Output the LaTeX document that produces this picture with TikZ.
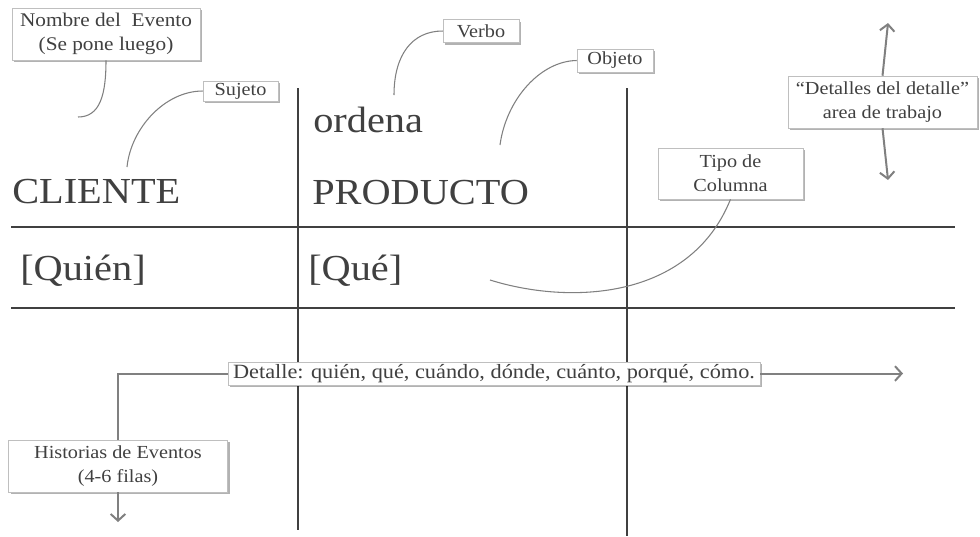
\documentclass[tikz,border=0pt]{standalone}
\usepackage{fontspec}
\setmainfont{Liberation Serif}[FakeStretch=1.1]
\usetikzlibrary{arrows.meta,shadows}

\definecolor{tinta}{HTML}{404040}
\definecolor{gris}{HTML}{808080}
\definecolor{borde}{HTML}{BFBFBF}

\begin{document}
\begin{tikzpicture}[x=0.75pt,y=-0.75pt,
    rejilla/.style={draw=tinta,line width=1.1pt},
    guia/.style={draw=gris,line width=0.8pt},
    flecha/.style={draw=gris,line width=1.5pt,-{Straight Barb[length=5pt,width=11pt]}},
    etiqueta/.style={draw=borde,fill=white,text=tinta,inner sep=0pt,align=center,
        font=\fontsize{13.8}{18}\selectfont,
        drop shadow={shadow xshift=1.5pt,shadow yshift=-1.5pt,fill=black,opacity=0.3}},
    grande/.style={text=tinta,inner sep=0pt,anchor=base west,font=\fontsize{27.5}{33}\selectfont}]
    \useasboundingbox (0,0) rectangle (980,536);

    % Rejilla de la tabla
    \draw[rejilla] (11,227) -- (955,227);
    \draw[rejilla] (11,308) -- (955,308);
    \draw[rejilla] (298,88) -- (298,530);
    \draw[rejilla] (627,88) -- (627,536);

    % Textos de la tabla
    \node[grande] (cliente) at (12,203) {CLIENTE};
    \node[grande] (ordena) at (313,132) {ordena};
    \node[grande] (producto) at (312,204) {PRODUCTO};
    \node[grande] (quien) at (20,280) {[Quién]};
    \node[grande] (que) at (308,280) {[Qué]};

    % Etiquetas
    \node[etiqueta,minimum width=141pt,minimum height=39pt,font=\fontsize{14.5}{18}\selectfont] (nombre) at (106,34) {Nombre del\ \ Evento\\(Se pone luego)};
    \node[etiqueta,minimum width=56.25pt,minimum height=15pt] (sujeto) at (240.5,91) {Sujeto};
    \node[etiqueta,minimum width=57pt,minimum height=17.25pt] (verbo) at (481,31) {Verbo};
    \node[etiqueta,minimum width=57pt,minimum height=17.25pt] (objeto) at (615,60.5) {Objeto};
    \node[etiqueta,minimum width=108.75pt,minimum height=38.25pt] (tipo) at (730.5,173.5) {Tipo de\\Columna};
    \node[etiqueta,minimum width=141.75pt,minimum height=39pt] (detalles) at (882.5,102) {“Detalles del detalle”\\area de trabajo};
    \node[etiqueta,minimum width=399pt,minimum height=17.25pt,font=\fontsize{15.2}{18}\selectfont] (detalle) at (494,373.5) {Detalle: quién, qué, cuándo, dónde, cuánto, porqué, cómo.};
    \node[etiqueta,minimum width=164.25pt,minimum height=39pt] (historias) at (118,466) {Historias de Eventos\\(4-6 filas)};

    % Extremos libres
    \coordinate (finNombre) at (78,117);
    \coordinate (finSujeto) at (127,167);
    \coordinate (finVerbo) at (394,95);
    \coordinate (finObjeto) at (500,145);
    \coordinate (finTipo) at (490,280);
    \coordinate (arriba) at (888,23);
    \coordinate (abajo) at (888,180);
    \coordinate (derecha) at (903,373.5);
    \coordinate (fondo) at (118,522);

    % Lineas de las etiquetas
    \draw[guia] (nombre.south) .. controls (106,95) and (100,117) .. (finNombre);
    \draw[guia] (sujeto.west) .. controls (165,91) and (131,128) .. (finSujeto);
    \draw[guia] (verbo.west) .. controls (412,31) and (394,55) .. (finVerbo);
    \draw[guia] (objeto.west) .. controls (540,61) and (506,100) .. (finObjeto);
    \draw[guia] (tipo.south) .. controls (690,300) and (570,305) .. (finTipo);

    % Flechas
    \draw[flecha] (detalles.north) -- (arriba);
    \draw[flecha] (detalles.south) -- (abajo);
    \draw[flecha] (detalle.east) -- (derecha);
    \draw[guia,line width=1.5pt] (detalle.west) -| (historias.north);
    \draw[flecha] (historias.south) -- (fondo);
\end{tikzpicture}
\end{document}
